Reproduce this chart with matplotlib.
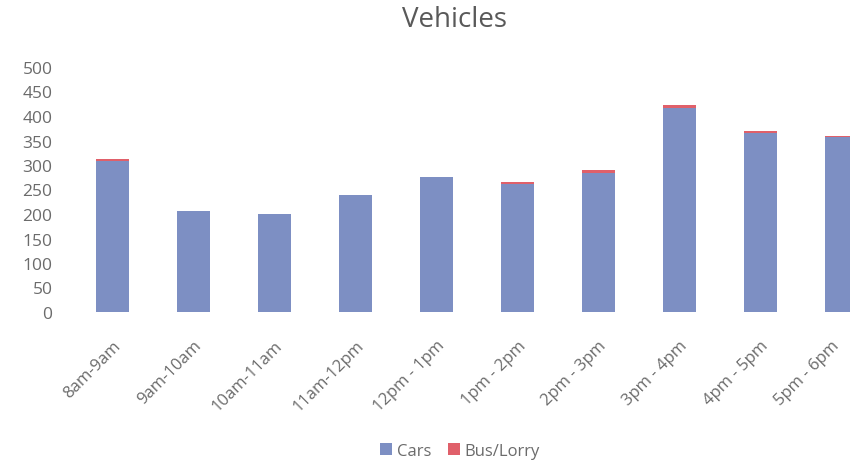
import matplotlib
matplotlib.use("Agg")
import matplotlib.pyplot as plt
import matplotlib.transforms as mtransforms
import numpy as np

# données
creneaux = ["8am-9am", "9am-10am", "10am-11am", "11am-12pm", "12pm - 1pm",
            "1pm - 2pm", "2pm - 3pm", "3pm - 4pm", "4pm - 5pm", "5pm - 6pm"]
voitures = [308, 207, 201, 238, 275, 262, 284, 416, 365, 357]
bus_camions = [5, 0, 0, 0, 0, 4, 5, 6, 4, 2]

couleur_voitures = "#7d8fc3"
couleur_bus = "#e0606a"
gris = "#6b6b6b"

plt.rcParams["font.family"] = ["Open Sans", "DejaVu Sans"]

fig = plt.figure(figsize=(8.5, 4.64), dpi=100)
# l'axe déborde à droite : la dernière barre est coupée comme sur l'original
ax = fig.add_axes([72 / 850, 151 / 464, 810 / 850, 245 / 464])

x = np.arange(len(creneaux))
ax.bar(x, voitures, width=0.4, color=couleur_voitures, label="Cars")
ax.bar(x, bus_camions, width=0.4, bottom=voitures, color=couleur_bus, label="Bus/Lorry")

ax.set_xlim(-0.5, len(creneaux) - 0.5)
ax.set_ylim(0, 500)
ax.set_yticks(range(0, 501, 50))
ax.set_xticks(x)
ax.set_xticklabels(creneaux, rotation=45, ha="right", rotation_mode="anchor")

ax.tick_params(axis="y", length=0, labelsize=12.5, labelcolor=gris, pad=14)
ax.tick_params(axis="x", length=0, labelsize=12, labelcolor=gris, pad=18)
for s in ax.spines.values():
    s.set_visible(False)

# petit décalage du dernier libellé pour qu'il reste dans l'image
dernier = ax.get_xticklabels()[-1]
decalage = mtransforms.ScaledTranslation(-10 / 100, 0, fig.dpi_scale_trans)
dernier.set_transform(dernier.get_transform() + decalage)

fig.text(455 / 850, 1 - 20 / 464, "Vehicles", ha="center", va="center",
         fontsize=20, color="#595959")

fig.legend(loc="center", bbox_to_anchor=(460 / 850, 1 - 452 / 464), ncol=2,
           frameon=False, fontsize=12, handlelength=0.7, handleheight=0.7,
           handletextpad=0.3, columnspacing=1.0, labelcolor=gris)

fig.savefig("out.png", dpi=100)
